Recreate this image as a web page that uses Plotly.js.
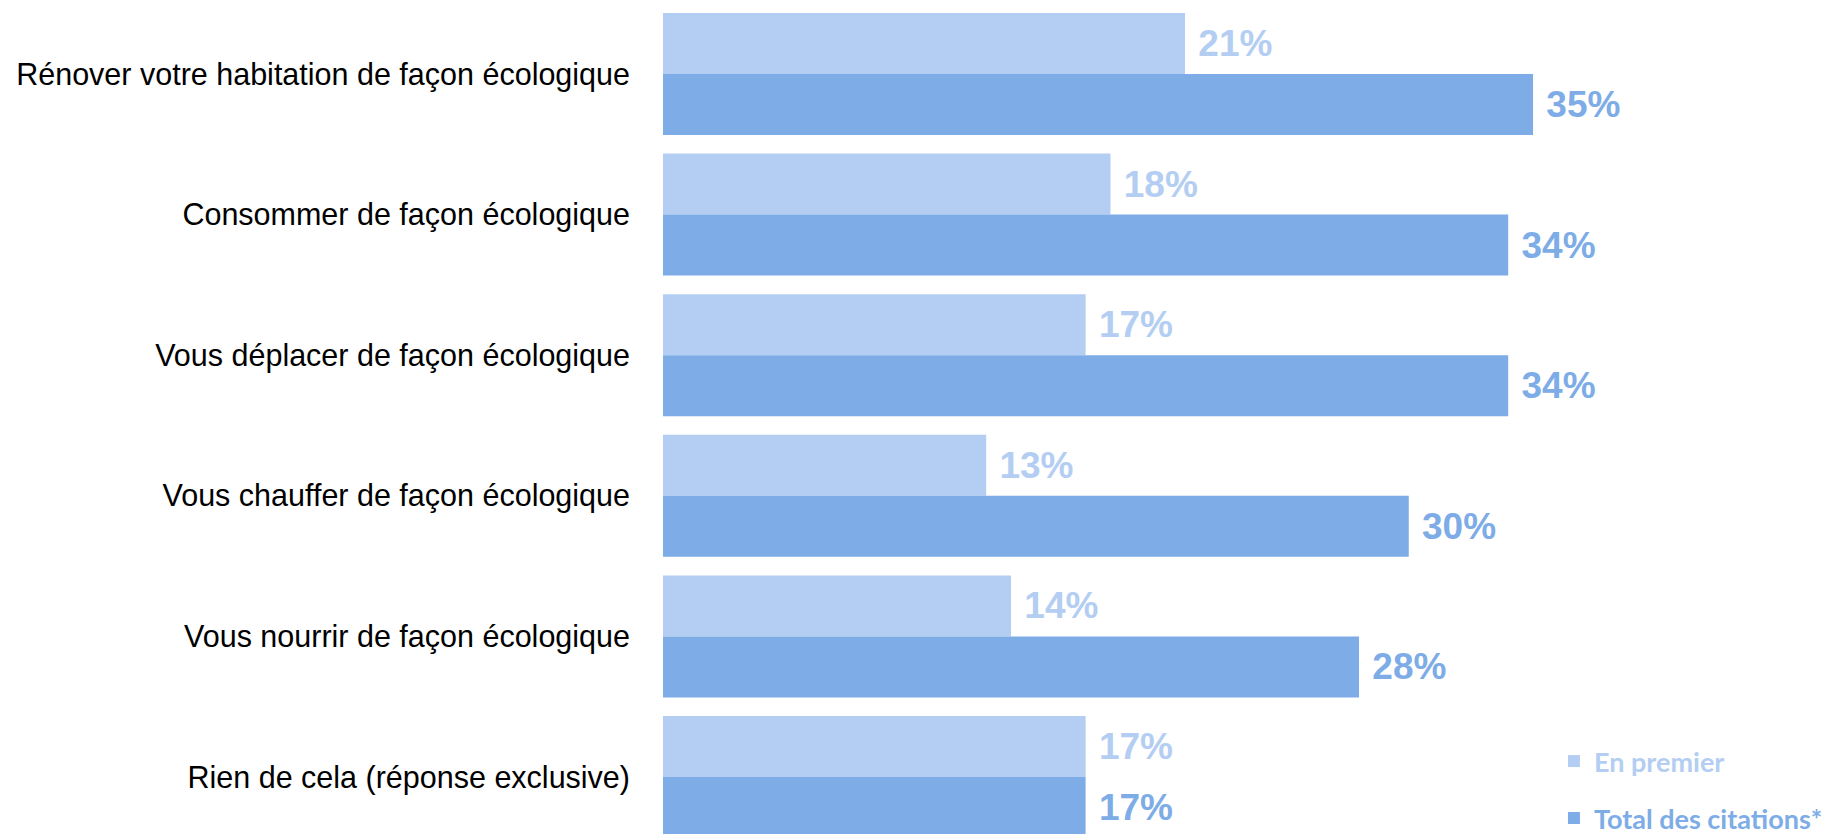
<!DOCTYPE html>
<html>
<head>
<meta charset="utf-8">
<script src="https://cdn.plot.ly/plotly-3.0.1.min.js"></script>
<style>html,body{margin:0;padding:0;background:#fff;overflow:hidden;}#chart{width:1850px;height:850px;}</style>
</head>
<body>
<div id="chart"></div>
<script>
const categories = [
  "Rénover votre habitation de façon écologique",
  "Consommer de façon écologique",
  "Vous déplacer de façon écologique",
  "Vous chauffer de façon écologique",
  "Vous nourrir de façon écologique",
  "Rien de cela (réponse exclusive)"
];
const enPremier = [21, 18, 17, 13, 14, 17];
const totalCitations = [35, 34, 34, 30, 28, 17];
const seriesNames = ["En premier", "Total des citations*"];

const lightColor = "#B3CEF2";
const darkColor = "#7DACE6";

const traces = [
  {
    type: "bar", orientation: "h", name: seriesNames[0],
    y: categories, x: enPremier,
    marker: {color: lightColor, line: {width: 0}},
    texttemplate: " %{x}%", textposition: "outside",
    textfont: {family: "Liberation Sans, Arial, sans-serif", size: 37, color: lightColor, weight: "bold"},
    cliponaxis: false, legend: "legend", hoverinfo: "skip"
  },
  {
    type: "bar", orientation: "h", name: seriesNames[1],
    y: categories, x: totalCitations,
    marker: {color: darkColor, line: {width: 0}},
    texttemplate: " %{x}%", textposition: "outside",
    textfont: {family: "Liberation Sans, Arial, sans-serif", size: 37, color: darkColor, weight: "bold"},
    cliponaxis: false, legend: "legend2", hoverinfo: "skip"
  }
];

const layout = {
  width: 1850, height: 850,
  margin: {l: 663, r: 0, t: 0, b: 0, pad: 0},
  paper_bgcolor: "#fff", plot_bgcolor: "#fff",
  barmode: "group", bargap: 0.132, bargroupgap: 0,
  showlegend: true,
  xaxis: {visible: false, range: [0, 47.75], fixedrange: true},
  yaxis: {
    type: "category", range: [5.519, -0.526],
    showgrid: false, zeroline: false, showline: false, ticks: "",
    ticklabelstandoff: 32,
    tickfont: {family: "Liberation Sans, Arial, sans-serif", size: 30.5, color: "#000"}
  },
  legend: {
    x: 0.7506, y: 0.1041, xanchor: "left", yanchor: "middle",
    bgcolor: "rgba(0,0,0,0)",
    font: {family: "Lato, Open Sans, sans-serif", size: 27, color: lightColor, weight: "bold"}
  },
  legend2: {
    x: 0.7506, y: 0.0371, xanchor: "left", yanchor: "middle",
    bgcolor: "rgba(0,0,0,0)",
    font: {family: "Lato, Open Sans, sans-serif", size: 27, color: darkColor, weight: "bold"}
  }
};

Plotly.newPlot("chart", traces, layout, {staticPlot: true, displayModeBar: false});
</script>
</body>
</html>
